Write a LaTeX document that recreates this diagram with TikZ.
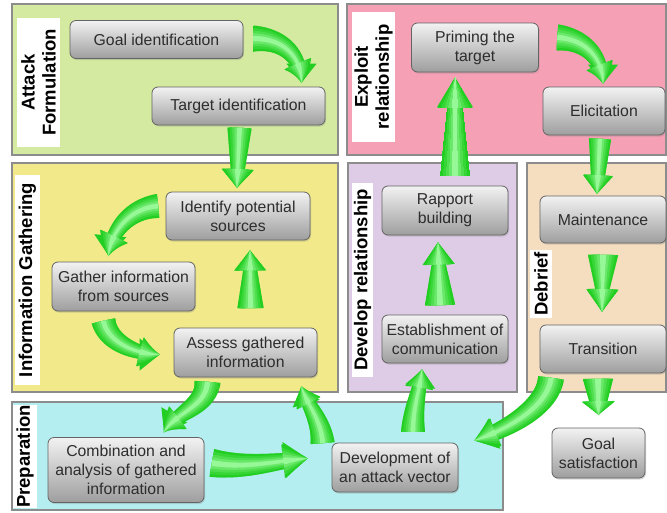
\documentclass[tikz,border=0pt]{standalone}
\usepackage{fontspec}
\setmainfont{Liberation Sans}
\usetikzlibrary{arrows.meta,calc,decorations.markings,shadows}

% panel fills
\definecolor{panelgreen}{RGB}{212,234,160}
\definecolor{panelpink}{RGB}{246,160,182}
\definecolor{panelyellow}{RGB}{241,233,138}
\definecolor{panellilac}{RGB}{222,204,230}
\definecolor{panelwheat}{RGB}{245,222,192}
\definecolor{panelcyan}{RGB}{181,238,240}
\definecolor{panelline}{RGB}{140,140,140}
% step boxes
\definecolor{boxtop}{RGB}{242,242,242}
\definecolor{boxbottom}{RGB}{158,158,158}
\definecolor{boxline}{RGB}{100,100,100}
\definecolor{boxtext}{RGB}{45,45,45}
% block arrows, from the rim to the lit centre
\definecolor{arrowgreen}{RGB}{34,206,34}
\definecolor{arrowlight}{RGB}{150,248,150}

\newcommand\BoxFont{\fontsize{15.8}{19}\selectfont}
\newcommand\TagFont{\fontsize{18.5}{21}\selectfont\bfseries}

% block arrow geometry: tail half width, neck half width, head length, head width
\newcommand\ArrTail{12}
\newcommand\ArrNeck{7}
\newcommand\ArrHL{20}
\newcommand\ArrHW{32}
% one slice across the arrow, scaled by #2, filled with #1
\newcommand\arrowslice[2]{%
  \pgfmathsetmacro\ArrD{\pgfkeysvalueof{/pgf/decoration/mark info/distance from start}}%
  \pgfmathsetmacro\ArrT{\pgfdecoratedpathlength}%
  \pgfmathsetmacro\ArrL{\ArrT-\ArrHL}%
  \ifdim\ArrD pt<\ArrL pt
    \pgfmathsetmacro\ArrR{(\ArrTail+(\ArrNeck-\ArrTail)*\ArrD/\ArrL)*#2}%
  \else
    \pgfmathsetmacro\ArrR{0.5*\ArrHW*(\ArrT-\ArrD)/\ArrHL*#2*0.95}%
  \fi
  \fill[#1] (-0.6pt,-\ArrR pt) rectangle (0.6pt,\ArrR pt);}

\tikzset{
  arrdims/.code n args={4}{\def\ArrTail{#1}\def\ArrNeck{#2}\def\ArrHL{#3}\def\ArrHW{#4}},
  arrowband/.style 2 args={postaction={decorate, decoration={markings,
      mark=between positions 0 and 1 step 0.7pt with {\arrowslice{#1}{#2}}}}},
  garrow/.style n args={4}{
    arrdims={#1}{#2}{#3}{#4},
    draw=arrowgreen, line width=1pt,
    -{Triangle[length=#3pt, width=#4pt]},
    arrowband={arrowgreen}{1},
    arrowband={arrowlight!18!arrowgreen}{0.8},
    arrowband={arrowlight!38!arrowgreen}{0.6},
    arrowband={arrowlight!62!arrowgreen}{0.4},
    arrowband={arrowlight}{0.2},
  },
  panel/.style={draw=panelline, line width=1.3pt},
  box/.style={rectangle, rounded corners=6pt, draw=boxline, line width=0.8pt,
    top color=boxtop, bottom color=boxbottom, text=boxtext, font=\BoxFont,
    align=center, inner sep=0pt,
    drop shadow={shadow xshift=1pt, shadow yshift=-1.5pt, opacity=0.3}},
  tag/.style={fill=white, rotate=90, font=\TagFont, align=center, inner sep=0pt},
}

\begin{document}
\begin{tikzpicture}[x=1pt,y=-1pt]
\fill[white] (0,0) rectangle (667,512);
\useasboundingbox (0,0) rectangle (667,512);

% phase panels
\path[panel, fill=panelgreen]  (12,4)    rectangle (338,155);
\path[panel, fill=panelpink]   (347,4)   rectangle (666,155);
\path[panel, fill=panelyellow] (12,163)  rectangle (338,392);
\path[panel, fill=panellilac]  (348,163) rectangle (517,392);
\path[panel, fill=panelwheat]  (527,163) rectangle (666,392);
\path[panel, fill=panelcyan]   (12,402)  rectangle (503,510);

% phase titles
\node[tag, minimum width=129pt, minimum height=43pt] (tagaf) at (38.5,82.5) {Attack\\Formulation};
\node[tag, minimum width=130pt, minimum height=43pt] (tager) at (373.5,77) {Exploit\\relationship};
\node[tag, minimum width=210pt, minimum height=25pt] (tagig) at (27.5,280) {Information Gathering};
\node[tag, minimum width=194pt, minimum height=21pt] (tagdr) at (362.5,280) {Develop relationship};
\node[tag, minimum width=68pt,  minimum height=22pt] (tagdb) at (541,284) {Debrief};
\node[tag, minimum width=103pt, minimum height=24pt] (tagpr) at (25,456.5) {Preparation};

% steps
\node[box, minimum width=173pt, minimum height=38pt] (goal)    at (156.5,39.5) {Goal identification};
\node[box, minimum width=173pt, minimum height=38pt] (tgt)     at (238.5,106)  {Target identification};
\node[box, minimum width=127pt, minimum height=49pt] (prime)   at (475,47.5)   {Priming the\\target};
\node[box, minimum width=122pt, minimum height=48pt] (elic)    at (604,111)    {Elicitation};
\node[box, minimum width=144pt, minimum height=48pt] (ident)   at (238,216)    {Identify potential\\sources};
\node[box, minimum width=143pt, minimum height=49pt] (gather)  at (123.5,286.5){Gather information\\from sources};
\node[box, minimum width=143pt, minimum height=49pt] (assess)  at (245.5,352.5){Assess gathered\\information};
\node[box, minimum width=126pt, minimum height=49pt] (rapport) at (445,210.5)  {Rapport\\building};
\node[box, minimum width=126pt, minimum height=48pt] (estab)   at (445,339)    {Establishment of\\communication};
\node[box, minimum width=126pt, minimum height=47pt] (maint)   at (603,219.5)  {Maintenance};
\node[box, minimum width=126pt, minimum height=48pt] (trans)   at (603,349)    {Transition};
\node[box, minimum width=156pt, minimum height=65pt] (comb)    at (126,470)    {Combination and\\analysis of gathered\\information};
\node[box, minimum width=126pt, minimum height=49pt] (dev)     at (395,467.5)  {Development of\\an attack vector};
\node[box, minimum width=93pt,  minimum height=50pt] (goalsat) at (598.5,453)  {Goal\\satisfaction};

% flow arrows
\draw[garrow={13}{7}{19}{30}] ($(goal.east)+(10,-1)$) .. controls +(32,0) and +(0,-24) .. ($(tgt.north)+(63,-4)$);
\draw[garrow={12}{7}{18}{32}] ($(tgt.south)+(1,3)$) -- ($(ident.north)+(-1,-4)$);
\draw[garrow={12}{7}{20}{32}] ($(ident.west)+(-8,-10)$) .. controls +(-30,3) and +(2,-22) .. ($(gather.north)+(-15,-6)$);
\draw[garrow={12}{7}{20}{32}] ($(gather.south)+(-20,10)$) .. controls +(5,22) and +(-22,0) .. ($(assess.west)+(-14,2)$);
\draw[garrow={13}{7}{20}{32}] ($(assess.north)+(5,-20)$) -- ($(ident.south)+(12,10)$);
\draw[garrow={13}{7}{20}{30}] ($(assess.south)+(-38,5)$) .. controls +(-2,25) and +(12,-20) .. ($(comb.north)+(38,-5)$);
\draw[garrow={14}{8}{24}{36}] ($(comb.east)+(8,-7)$) .. controls +(35,6) and +(-30,2) .. ($(dev.west)+(-24,-9)$);
\draw[garrow={12}{7}{18}{28}] ($(dev.north west)+(-9,0)$) .. controls +(-2,-25) and +(5,18) .. ($(assess.south east)+(-16,9)$);
\draw[garrow={12}{7}{18}{30}] ($(dev.north)+(18,-11)$) .. controls +(0,-25) and +(-2,20) .. ($(estab.south)+(-23,6)$);
\draw[garrow={15}{7}{22}{32}] ($(estab.north)+(-5,-10)$) -- ($(rapport.south)+(-7,7)$);
\draw[garrow={15}{8}{30}{36}] ($(rapport.north)+(10,-10)$) -- ($(prime.south)+(-20,5)$);
\draw[garrow={13}{7}{19}{30}] ($(prime.east)+(19,-10)$) .. controls +(28,2) and +(0,-25) .. ($(elic.north)+(-1,-3)$);
\draw[garrow={11}{7}{18}{30}] ($(elic.south)+(-4,4)$) -- ($(maint.north)+(-6,-2)$);
\draw[garrow={15}{7}{22}{32}] ($(maint.south)+(0,12)$) -- ($(trans.north)+(-1,-13)$);
\draw[garrow={13}{8}{22}{32}] ($(trans.south)+(-52,5)$) .. controls +(-4,30) and +(30,-10) .. ($(dev.east)+(16,-27)$);
\draw[garrow={15}{9}{13}{33}] ($(trans.south)+(-5,6)$) -- ($(goalsat.north)+(0,-13)$);
\end{tikzpicture}
\end{document}
